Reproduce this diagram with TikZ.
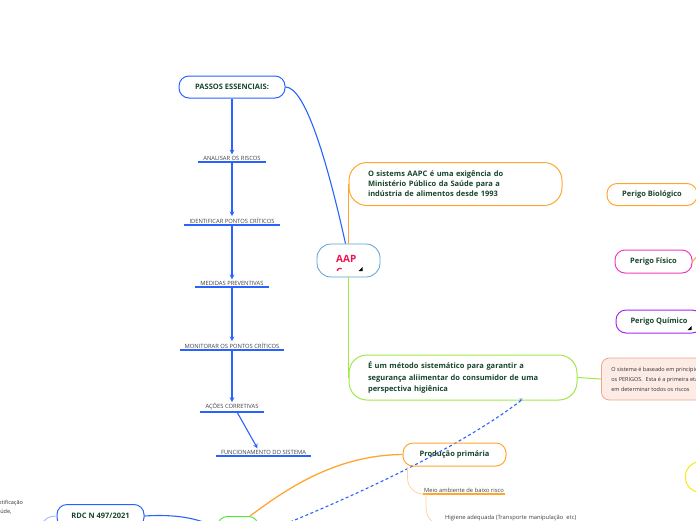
\documentclass[tikz,border=0pt]{standalone}
\usepackage{fontspec}
\setmainfont{Open Sans}
\definecolor{azul}{RGB}{41,98,255}
\definecolor{azulclaro}{RGB}{90,160,215}
\definecolor{laranja}{RGB}{255,166,48}
\definecolor{laranjaclaro}{RGB}{255,212,160}
\definecolor{verdeclaro}{RGB}{160,232,70}
\definecolor{verde}{RGB}{80,230,60}
\definecolor{textoverde}{RGB}{22,68,44}
\definecolor{vermelho}{RGB}{232,22,80}
\definecolor{rosa}{RGB}{240,60,190}
\definecolor{roxo}{RGB}{165,40,245}
\definecolor{salmao}{RGB}{245,165,135}
\definecolor{salmaofundo}{RGB}{253,236,229}
\definecolor{amarelo}{RGB}{245,235,20}
\tikzset{
  caixa/.style={draw, line width=1pt, rounded corners=10pt, minimum height=23pt,
    inner xsep=10pt, font=\bfseries\fontsize{7.5}{10}\selectfont, text=textoverde},
  passo/.style={font=\fontsize{5.8}{7}\selectfont, text=black!75,
    inner xsep=5pt, inner ysep=1.5pt, anchor=south},
  ligacao/.style={azul, line width=1.1pt},
}
\begin{document}
\begin{tikzpicture}[x=1pt,y=-1pt]
	\useasboundingbox (0,0) rectangle (696,520);
	\clip (0,0) rectangle (696,520);
	%
	% Passos essenciais
	\node[caixa, draw=azul, minimum width=106pt, minimum height=22pt] (passos) at (232,87) {PASSOS ESSENCIAIS:};
	\foreach \y/\nome/\txt in {162/p1/ANALISAR OS RISCOS, 225/p2/IDENTIFICAR PONTOS CRÍTICOS,
		287/p3/MEDIDAS PREVENTIVAS, 350/p4/MONITORAR OS PONTOS CRÍTICOS, 412/p5/AÇÕES CORRETIVAS}{
		\node[passo] (\nome) at (232,\y) {\txt};
		\draw[ligacao] (\nome.south west) -- (\nome.south east);
	};
	\node[passo] (p6) at (263.5,456) {FUNCIONAMENTO DO SISTEMA};
	\draw[ligacao] (p6.south west) -- (p6.south east);
	\foreach \a/\b in {passos/p1,p1/p2,p2/p3,p3/p4,p4/p5}{
		\draw[ligacao,->,>=stealth] (\a.south) -- (\b.north);
	};
	\draw[ligacao,->,>=stealth] ([xshift=5pt]p5.south) -- ([xshift=-6pt]p6.north);
	%
	% No central
	\node[draw=azulclaro, line width=0.8pt, rounded corners=14pt, minimum width=63pt, minimum height=33pt] (aap) at (348.5,260.5) {};
	\node[anchor=base west, inner sep=0, font=\bfseries\fontsize{10}{12}\selectfont, text=vermelho] (aaptxt) at (336,262) {AAP};
	\begin{scope}
		\clip (330,263) rectangle (375,270);
		\node[anchor=base west, inner sep=0, font=\bfseries\fontsize{10}{12}\selectfont, text=vermelho] (aapc) at (336,275) {C};
	\end{scope}
	\fill (358.5,271) -- (362.5,271) -- (362.5,267) -- cycle;
	\draw[ligacao] (passos.east) .. controls (305,87) and (327,160) .. ([xshift=-3pt]aap.north);
	%
	% Exigencia e metodo
	\node[caixa, draw=laranja, rounded corners=18pt, align=left, text width=175pt, inner xsep=19pt,
		minimum height=43pt] (exig) at (455.5,184) {O sistems AAPC é uma exigência do\\Ministério Público da Saúde para a\\indústria de alimentos desde 1993};
	\draw[laranja, line width=1pt] (exig.west |- aap.north) -- (exig.west);
	\node[caixa, draw=verdeclaro, rounded corners=18pt, align=left, text width=190pt, inner xsep=19pt,
		minimum height=45pt, font=\bfseries\fontsize{7.5}{11.5}\selectfont] (metodo) at (463,377.5) {É um método sistemático para garantir a\\segurança aliimentar do consumidor de uma\\perspectiva higiênica};
	\draw[verdeclaro, line width=1pt] (metodo.west |- aap.south) -- (metodo.west);
	\node[draw=salmao, fill=salmaofundo, line width=0.8pt, rounded corners=8pt, anchor=west, align=left,
		minimum height=42pt, inner xsep=10pt, font=\fontsize{5.5}{10}\selectfont, text=black!80] (salm) at (601,379) {O sistema é baseado em princípios\\os PERIGOS.\ \ Esta é a primeira etapa\\em determinar todos os riscos};
	\draw[verdeclaro, line width=1pt] (metodo.east) -- (salm.west);
	%
	% Perigos
	\node[caixa, draw=laranja, minimum width=90pt, minimum height=22pt] (bio) at (652,194.5) {Perigo Biológico};
	\node[caixa, draw=rosa, minimum width=77pt] (fis) at (653.5,261.5) {Perigo Físico};
	\node[caixa, draw=roxo, minimum width=86pt] (qui) at (659,321.5) {Perigo Químico};
	\fill (687.5,330) -- (691.5,330) -- (691.5,326) -- cycle;
	\draw[laranja, line width=1pt] (fis.east) .. controls (698,255) and (702,250) .. (712,247);
	%
	% Relacao tracejada
	\coordinate (xmarca) at ([xshift=58pt]metodo.south);
	\coordinate (fimtrac) at (290,522);
	\draw[azul, line width=1.1pt, dash pattern=on 3pt off 2.5pt] (xmarca) .. controls (470,440) and (380,485) .. (fimtrac);
	\node[text=azul, inner sep=0, font=\fontsize{7}{7}\selectfont] (xm) at (xmarca) {×};
	%
	% Parte de baixo
	\node[draw=verde, line width=1pt, rounded corners=10pt, minimum width=41pt, minimum height=24pt, anchor=north] (verdebase) at (238,516) {};
	\node[caixa, draw=laranja, minimum width=103pt] (prod) at (454.5,454.5) {Produção primária};
	\draw[laranja, line width=1.3pt] ([xshift=12pt]verdebase.north) .. controls (285,490) and (335,455) .. (prod.west);
	\node[passo, inner xsep=1pt] (meio) at (464,494) {Meio ambiente de baixo risco};
	\draw[laranja, line width=1.3pt] (meio.south west) -- (meio.south east);
	\draw[laranjaclaro, line width=0.8pt] ([xshift=-47pt]prod.south) -- ++(0,11) .. controls +(0,10) and +(-8,0) .. (meio.south west);
	\node[passo, anchor=south west, inner xsep=8pt] (hig) at (437,523) {Higiene adequada (Transporte manipulação\ \ etc)};
	\draw[laranja, line width=1.3pt] (hig.south west) -- (hig.south east);
	\draw[laranjaclaro, line width=0.8pt] ([xshift=3pt]meio.south west) -- ++(0,13) .. controls +(0,9) and +(-6,0) .. (hig.south west);
	%
	\node[caixa, draw=azul, minimum width=87pt, anchor=north] (rdc) at (100.5,504) {RDC N 497/2021};
	\draw[ligacao] (rdc.east) .. controls (175,514) and (200,518) .. (verdebase.west);
	\node[anchor=north west, align=left, inner sep=0, font=\fontsize{5.5}{9.5}\selectfont, text=black!80] (notif) at (-6,500) {Notificação\\Saúde,};
	\coordinate (ligesq) at (40,530);
	\draw[azul!40, line width=1pt] (rdc.west) .. controls (48,516) and (42,520) .. (ligesq);
	%
	\node[draw=amarelo, line width=1pt, rounded corners=14pt, minimum width=80pt, minimum height=30pt, anchor=west] (amar) at (685,477) {};
\end{tikzpicture}
\end{document}
